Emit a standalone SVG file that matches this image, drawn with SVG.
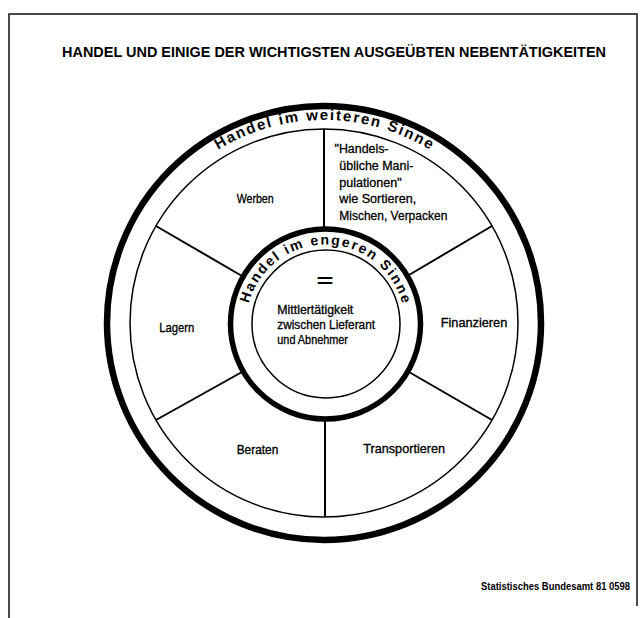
<svg xmlns="http://www.w3.org/2000/svg" width="643" height="618" viewBox="0 0 643 618">
<style>
.frame{fill:none;stroke:#111;stroke-width:1.5}
.thick{fill:none;stroke:#000;stroke-width:6.5}
.thick2{fill:none;stroke:#000;stroke-width:5.5}
.thin{fill:none;stroke:#000;stroke-width:1.5}
.spoke{stroke:#000;stroke-width:2;fill:none}
.lbl{font-family:"Liberation Sans",Arial,sans-serif;font-size:13.5px;fill:#000;stroke:#000;stroke-width:0.35}
.small{font-family:"Liberation Sans",Arial,sans-serif;font-size:12.5px;fill:#000;stroke:#000;stroke-width:0.3}
.ctr{font-family:"Liberation Sans",Arial,sans-serif;font-size:12px;fill:#000;stroke:#000;stroke-width:0.3}
.ring{font-family:"Liberation Sans",Arial,sans-serif;font-size:15px;font-weight:bold;fill:#000}
.title{font-family:"Liberation Sans",Arial,sans-serif;font-size:15.5px;font-weight:bold;fill:#000}
.credit{font-family:"Liberation Sans",Arial,sans-serif;font-size:11px;font-weight:bold;fill:#000}
</style>
<defs>
<path id="outerArc" d="M 121 323 A 203 203 0 0 1 527 323"/>
<path id="innerArc" d="M 246 324 A 79.5 79.5 0 0 1 405 324"/>
</defs>
<rect width="643" height="618" fill="#fff"/>
<g id="frame">
<path class="frame" d="M9 618 V14 H637 V606"/>
</g>
<g id="title">
<text class="title" x="62" y="57" textLength="544" lengthAdjust="spacingAndGlyphs">HANDEL UND EINIGE DER WICHTIGSTEN AUSGEÜBTEN NEBENTÄTIGKEITEN</text>
</g>
<g id="outer-ring">
<circle class="thick" cx="324" cy="323" r="217"/>
<circle class="thin" cx="324" cy="323" r="194"/>
<text class="ring"><textPath href="#outerArc" startOffset="50%" text-anchor="middle" textLength="223" lengthAdjust="spacing">Handel im weiteren Sinne</textPath></text>
</g>
<g id="connectors">
<line class="spoke" x1="324" y1="129" x2="324" y2="230"/>
<line class="spoke" x1="325" y1="418" x2="325" y2="517"/>
<line class="spoke" x1="156" y1="226" x2="242" y2="276"/>
<line class="spoke" x1="492" y1="226" x2="409" y2="275"/>
<line class="spoke" x1="409" y1="372" x2="492" y2="420"/>
<line class="spoke" x1="242" y1="372" x2="156" y2="420"/>
</g>
<g id="inner-ring">
<circle class="thick2" cx="325.5" cy="324" r="95"/>
<circle class="thin" cx="326" cy="324" r="74"/>
<text class="ring" style="font-size:14px"><textPath href="#innerArc" startOffset="50%" text-anchor="middle" textLength="208" lengthAdjust="spacing">Handel im engeren Sinne</textPath></text>
</g>
<g id="center">
<text class="ring" style="font-size:18px" x="316.5" y="287" textLength="17" lengthAdjust="spacingAndGlyphs">=</text>
<text class="ctr" x="277.3" y="313.5" textLength="76" lengthAdjust="spacingAndGlyphs">Mittlertätigkeit</text>
<text class="ctr" x="277.3" y="328.5" textLength="97.7" lengthAdjust="spacingAndGlyphs">zwischen Lieferant</text>
<text class="ctr" x="277.3" y="343.5" textLength="70.7" lengthAdjust="spacingAndGlyphs">und Abnehmer</text>
</g>
<g id="werben"><text class="lbl" x="236.7" y="203" textLength="37" lengthAdjust="spacingAndGlyphs">Werben</text></g>
<g id="manipulationen">
<text class="small" x="334.5" y="153" textLength="54" lengthAdjust="spacingAndGlyphs">"Handels-</text>
<text class="small" x="339.3" y="170" textLength="74" lengthAdjust="spacingAndGlyphs">übliche Mani-</text>
<text class="small" x="339.3" y="186.5" textLength="62.4" lengthAdjust="spacingAndGlyphs">pulationen"</text>
<text class="small" x="339.3" y="203" textLength="77" lengthAdjust="spacingAndGlyphs">wie Sortieren,</text>
<text class="small" x="339.3" y="220" textLength="108" lengthAdjust="spacingAndGlyphs">Mischen, Verpacken</text>
</g>
<g id="lagern"><text class="lbl" x="159.3" y="332" textLength="35" lengthAdjust="spacingAndGlyphs">Lagern</text></g>
<g id="finanzieren"><text class="lbl" x="440.7" y="327" textLength="66.6" lengthAdjust="spacingAndGlyphs">Finanzieren</text></g>
<g id="beraten"><text class="lbl" x="236.7" y="454" textLength="41.6" lengthAdjust="spacingAndGlyphs">Beraten</text></g>
<g id="transportieren"><text class="lbl" x="363.3" y="453" textLength="81.7" lengthAdjust="spacingAndGlyphs">Transportieren</text></g>
<g id="credit"><text class="credit" x="481" y="590" textLength="149" lengthAdjust="spacingAndGlyphs">Statistisches Bundesamt 81 0598</text></g>
</svg>
